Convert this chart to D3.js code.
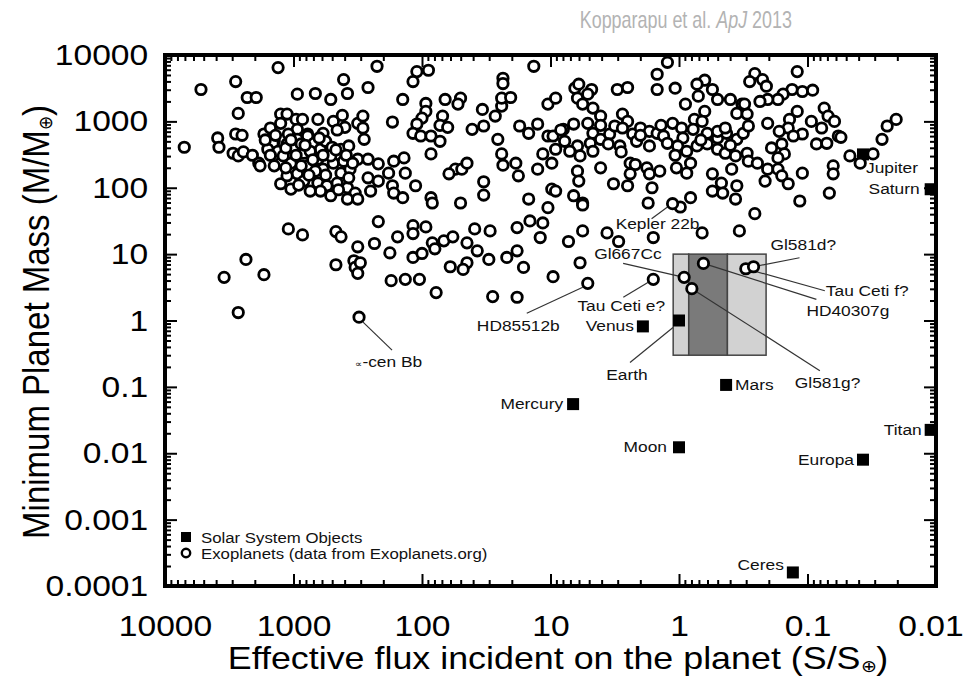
<!DOCTYPE html>
<html>
<head>
<meta charset="utf-8">
<script src="https://cdn.jsdelivr.net/npm/d3@7"></script>
<style>
  body { margin: 0; background: #fff; }
  svg { display: block; }
  text { font-family: "Liberation Sans", Arial, Helvetica, sans-serif; }
</style>
</head>
<body>
<div id="chart"></div>
<script>
// exoplanets, as [log10(S/S_earth), log10(M/M_earth)]
const exoplanets = [
  [3.72,3.48],[3.45,3.60],[3.12,3.81],[3.36,3.36],[3.29,3.36],[3.43,3.12],[3.85,2.61],[3.59,2.75],[3.58,2.61],[3.45,2.81],
  [3.40,2.79],[3.47,2.52],[3.43,2.48],[3.39,2.54],[3.32,2.49],[3.27,2.37],[3.26,2.33],[3.23,2.81],[3.18,2.90],[3.15,2.70],
  [3.10,3.11],[3.05,3.11],[3.10,2.97],[2.97,3.41],[2.83,3.42],[2.71,3.33],[2.61,3.63],[2.58,3.42],[2.98,3.03],[2.93,3.03],
  [2.97,2.88],[2.89,2.81],[2.81,3.03],[2.77,2.82],[2.69,3.00],[2.62,3.09],[2.60,2.91],[2.50,2.97],[3.10,2.06],
  [3.16,2.67],[3.20,2.58],[3.12,2.55],[3.05,2.66],[3.04,2.81],[2.97,2.73],[3.00,2.58],[2.92,2.52],[2.89,2.78],[2.84,2.67],
  [2.79,2.58],[2.75,2.70],[2.70,2.61],[2.63,2.58],[2.57,2.63],[3.10,2.37],[3.02,2.37],[2.97,2.21],[2.89,2.33],[2.81,2.43],
  [2.77,2.28],[2.69,2.37],[2.63,2.22],[2.56,2.28],[2.50,2.43],[3.15,2.33],[3.05,2.18],[2.92,2.10],[2.81,2.07],[2.74,2.03],
  [2.66,2.07],[2.58,2.00],[2.52,1.92],[2.79,1.95],[2.71,1.88],[2.58,1.83],[2.50,1.83],[2.94,2.66],[2.87,2.55],[3.08,2.48],
  [2.83,2.25],[2.71,2.48],[2.61,2.40],[2.94,2.33],[3.02,1.98],[2.87,1.95],
  [3.22,2.72],[3.14,2.79],[3.06,2.60],[2.98,2.49],[2.91,2.64],[2.85,2.42],[2.77,2.49],[2.67,2.57],[2.59,2.49],[2.54,2.37],
  [2.96,2.04],[2.88,2.19],[2.75,2.19],[2.65,1.97],[2.57,2.15],[3.06,2.30],[3.18,2.49],[3.02,2.72],[2.80,2.75],[2.66,2.87],
  [2.35,3.83],[2.04,3.75],[1.95,3.77],[2.07,3.60],[2.42,3.51],[2.15,3.33],[1.97,3.27],[1.82,3.33],[1.70,3.35],[1.72,3.26],
  [2.46,3.08],[2.46,2.90],[2.45,2.73],[2.23,2.99],[1.97,3.15],[2.00,3.05],[2.04,2.96],[2.07,2.82],[2.01,2.78],[1.93,2.78],
  [1.86,2.70],[1.84,3.08],[1.86,2.94],[1.80,2.91],[1.93,2.51],[1.53,3.18],[1.61,2.88],[1.52,2.93],[1.43,3.08],[1.38,3.23],
  [1.38,3.35],[1.31,3.36],[1.37,3.65],[1.37,3.57],[1.41,2.73],[1.38,2.51],[1.37,2.34],[1.27,2.37],[1.25,2.18],[1.52,2.09],
  [1.52,1.89],[1.17,1.83],[1.24,2.93],[1.17,2.82],[1.10,2.96],[1.02,2.78],[1.06,2.51],[0.99,2.37],[1.10,2.28],[0.99,1.98],
  [1.13,3.83],[1.74,2.28],[1.69,2.28],[1.65,2.37],[1.79,2.21],[2.42,2.43],[2.34,2.36],[2.22,2.40],[2.14,2.45],[2.26,2.22],
  [2.13,2.22],[2.42,2.15],[2.34,2.10],[2.23,2.03],[2.05,2.03],[2.40,1.95],[2.22,1.92],[2.15,1.85],[1.93,1.85],[1.92,1.77],
  [1.70,1.77],[1.02,3.26],
  [0.09,3.89],[0.17,3.71],[0.17,3.48],[0.03,3.50],[0.81,3.50],[0.78,3.56],[0.68,3.48],[0.48,3.48],[0.40,3.51],[0.96,3.35],
  [0.79,3.35],[0.71,3.41],[0.75,3.26],[0.67,3.20],[0.61,3.08],[0.44,3.11],[0.40,3.00],[-0.05,3.26],[-0.15,3.38],[-0.20,3.62],
  [-0.14,3.56],[-0.26,3.48],[-0.30,3.33],[-0.40,3.33],[-0.49,3.26],[-0.45,3.12],[-0.53,3.11],[-0.20,3.15],[-0.12,3.03],
  [0.98,2.78],[0.90,2.88],[0.82,2.96],[0.71,2.97],[0.67,2.82],[0.89,2.70],[0.79,2.63],[0.69,2.67],[0.61,2.73],[0.54,2.81],
  [0.50,2.93],[0.44,2.90],[0.36,2.81],[0.30,2.90],[0.23,2.85],[0.17,2.82],[0.12,2.78],[0.05,2.97],[-0.02,2.90],[-0.03,2.75],
  [-0.11,2.88],[-0.18,3.00],[-0.22,2.82],[-0.30,2.75],[-0.37,2.82],[-0.45,2.73],[-0.50,2.82],[0.96,2.58],[0.85,2.55],[0.77,2.48],
  [0.67,2.55],[0.55,2.66],[0.46,2.63],[0.33,2.70],[0.23,2.63],[0.09,2.67],[0.01,2.63],[-0.06,2.55],[-0.14,2.63],[-0.22,2.66],
  [-0.30,2.58],[-0.36,2.52],[-0.44,2.48],[-0.53,2.52],[-0.30,2.85],[-0.36,2.90],
  [0.92,2.87],[0.61,2.94],[0.30,2.79],[0.14,2.94],[-0.17,2.72],[-0.40,2.64],[0.45,2.54],[0.03,2.49],
  [0.79,2.25],[0.78,2.10],[0.61,2.30],[0.38,2.37],[0.34,2.35],[0.38,2.21],[0.25,2.30],[0.23,2.21],[0.15,2.25],[0.02,2.30],
  [-0.09,2.37],[-0.06,2.22],[-0.26,2.21],[-0.33,2.07],[-0.41,2.28],[-0.26,1.95],[-0.34,1.92],[-0.45,2.03],[-0.44,1.83],[0.51,2.06],
  [0.40,2.03],[0.21,2.00],[0.96,1.95],[0.82,1.88],[0.75,1.77],[0.24,1.77],[-0.09,1.85],
  [-0.59,3.72],[-0.55,3.60],[-0.65,3.63],[-0.68,3.53],[-0.92,3.75],[-0.88,3.48],[-0.96,3.45],[-1.04,3.47],[-0.81,3.41],[-0.77,3.33],
  [-0.69,3.33],[-0.63,3.30],[-0.92,3.15],[-0.86,3.03],[-0.85,2.90],[-0.78,2.85],[-0.69,2.97],[-0.54,2.93],[-0.51,3.26],[-1.13,3.20],
  [-1.16,3.08],[-1.21,3.00],[-1.03,3.00],[-1.11,2.90],[-0.96,2.81],[-0.89,2.78],[-0.80,2.66],[-0.72,2.60],[-0.82,2.51],[-0.77,2.45],
  [-0.54,2.40],[-0.61,2.37],[-0.69,2.28],[-0.77,2.28],[-0.80,2.18],[-0.67,2.10],[-0.85,2.06],[-0.96,2.22],[-1.20,2.33],[-1.20,2.21],
  [-1.17,1.92],[-0.94,1.80],[-1.07,2.66],[-1.15,2.67],[-1.24,2.78],[-1.26,2.76],[-1.33,2.48],[-1.41,2.37],[-1.51,2.51],[-1.58,2.73],
  [-1.62,2.93],[-1.69,3.03],
  [3.04,1.38],[2.93,1.29],[2.67,1.34],[2.63,1.26],[2.34,1.49],[2.19,1.26],[2.07,1.43],[2.07,1.31],[1.97,1.41],[2.50,1.11],
  [2.37,1.16],[2.25,1.02],[2.07,0.95],[2.00,1.01],[1.92,1.17],[1.90,1.08],[1.83,1.20],[1.76,1.26],[1.59,1.38],[1.47,1.35],
  [1.65,1.17],[1.57,1.05],[1.65,0.87],[1.68,0.77],[1.48,0.92],[1.34,0.95],[1.26,1.05],[1.21,0.80],[1.26,1.40],[1.16,1.50],
  [1.06,1.47],[1.08,1.25],[3.37,0.92],[3.54,0.65],[3.23,0.69],[3.43,0.12],[2.67,0.84],[2.53,0.90],[2.52,0.80],[2.48,0.87],
  [2.50,0.71],[2.24,0.60],[2.13,0.62],[2.02,0.62],[1.89,0.42],[1.78,0.81],[1.45,0.36],[1.26,0.35],
  [1.02,1.70],[0.75,1.74],[-0.01,1.71],[-0.59,1.61],[-0.47,1.35],[-0.18,1.32],[0.20,1.25],[0.47,1.19],[0.56,1.32],[0.75,1.35],
  [0.86,1.19],[0.77,0.87],[0.98,0.66]
];

// labelled exoplanets
const namedPlanets = ['∝-cen Bb', 'HD85512b', 'Kepler 22b', 'Gl667Cc', 'Tau Ceti e?', 'Gl581g?', 'HD40307g', 'Tau Ceti f?', 'Gl581d?'];
const namedLogFlux = [2.49, 0.71, 0.05, -0.04, 0.20, -0.10, -0.19, -0.52, -0.58];
const namedLogMass = [0.05, 0.56, 1.76, 0.65, 0.62, 0.48, 0.86, 0.78, 0.81];

// solar system objects (flux and mass relative to Earth)
const solarNames = ['Mercury', 'Venus', 'Earth', 'Moon', 'Mars', 'Ceres', 'Jupiter', 'Europa', 'Saturn', 'Titan'];
const solarFlux = [6.67, 1.91, 1, 1, 0.43, 0.13, 0.037, 0.037, 0.011, 0.011];
const solarMass = [0.055, 0.815, 1, 0.0123, 0.107, 0.00016, 318, 0.008, 95, 0.0225];

// habitable zone box: flux edges (inner -> outer) and mass range
const hzFlux = [1.11, 0.84, 0.42, 0.21];
const hzMass = [0.3, 10];

const xTickValues = [10000, 1000, 100, 10, 1, 0.1, 0.01];
const xTickLabels = ['10000', '1000', '100', '10', '1', '0.1', '0.01'];
const yTickValues = [1e-4, 1e-3, 1e-2, 0.1, 1, 10, 100, 1000, 10000];
const yTickLabels = ['0.0001', '0.001', '0.01', '0.1', '1', '10', '100', '1000', '10000'];

// label placement, in pixels relative to the marker
const solarLabelLayout = {
    Mercury: { dx: -10, dy: 5, anchor: 'end' },
    Venus: { dx: -9, dy: 5, anchor: 'end' },
    Earth: { dx: -52, dy: 59, anchor: 'middle', line: [-6, 7, -49, 42] },
    Moon: { dx: -12, dy: 5, anchor: 'end' },
    Mars: { dx: 9, dy: 5, anchor: 'start' },
    Ceres: { dx: -9, dy: -2, anchor: 'end' },
    Jupiter: { dx: 3, dy: 19, anchor: 'start' },
    Europa: { dx: -9, dy: 5, anchor: 'end' },
    Saturn: { dx: -11, dy: 5, anchor: 'end' },
    Titan: { dx: -9, dy: 5, anchor: 'end' }
};
const exoLabelLayout = {
    '∝-cen Bb': { dx: -4, dy: 50, anchor: 'start', line: [4, 5, 33, 33] },
    'HD85512b': { dx: -28, dy: 48, anchor: 'end', line: [-5, 4, -61, 30] },
    'Kepler 22b': { dx: -15, dy: 25, anchor: 'middle', line: [-2, 1, -21, 15] },
    'Gl667Cc': { dx: -90, dy: -18, anchor: 'start', line: [0, 0, -61, -14] },
    'Tau Ceti e?': { dx: -32, dy: 32, anchor: 'middle', line: [0, 0, -30, 18] },
    'Gl581g?': { dx: 103, dy: 99, anchor: 'start', line: [0, 0, 128, 82] },
    'HD40307g': { dx: 103, dy: 53, anchor: 'start', line: [0, 0, 113, 36] },
    'Tau Ceti f?': { dx: 80, dy: 27, anchor: 'start', line: [0, 0, 79, 22] },
    'Gl581d?': { dx: 17, dy: -17, anchor: 'start', line: [0, 0, 46, -9] }
};

const width = 966, height = 679;
const plot = { left: 165, right: 936, top: 55, bottom: 586 };
const sx = 1.12; // the original figure is a little wider than tall, text included

const x = d3.scaleLog().domain([10000, 0.01]).range([plot.left, plot.right]);
const y = d3.scaleLog().domain([1e-4, 1e4]).range([plot.bottom, plot.top]);

const svg = d3.select('#chart').append('svg').attr('width', width).attr('height', height);

const addText = (parent, px, py, str, size, anchor, fill) =>
    parent.append('text')
        .attr('transform', `translate(${px},${py}) scale(${sx},1)`)
        .attr('text-anchor', anchor || 'start')
        .attr('font-size', size)
        .attr('fill', fill || '#111')
        .text(str);

// credit line (narrow humanist face in the original)
const credit = svg.append('text')
    .attr('transform', 'translate(792,28) scale(0.78,1)')
    .attr('text-anchor', 'end')
    .attr('font-family', 'Lato, "Open Sans", sans-serif')
    .attr('font-size', 23)
    .attr('fill', '#b3b3b3');
credit.append('tspan').text('Kopparapu et al. ');
credit.append('tspan').attr('font-style', 'italic').text('ApJ');
credit.append('tspan').text(' 2013');

// habitable zone
const hzFills = ['#d2d2d2', '#7a7a7a', '#d2d2d2'];
svg.append('g').selectAll('rect')
    .data(d3.range(hzFlux.length - 1))
    .join('rect')
    .attr('x', (i) => x(hzFlux[i]))
    .attr('width', (i) => x(hzFlux[i + 1]) - x(hzFlux[i]))
    .attr('y', y(hzMass[1]))
    .attr('height', y(hzMass[0]) - y(hzMass[1]))
    .attr('fill', (i) => hzFills[i])
    .attr('stroke', '#444')
    .attr('stroke-width', 1.5);

// leader lines
const leaders = svg.append('g').attr('stroke', '#333').attr('stroke-width', 1.2);
namedPlanets.forEach((name, i) => {
    const l = exoLabelLayout[name].line;
    const px = x(10 ** namedLogFlux[i]), py = y(10 ** namedLogMass[i]);
    leaders.append('line')
        .attr('x1', px + l[0]).attr('y1', py + l[1])
        .attr('x2', px + l[2]).attr('y2', py + l[3]);
});
solarNames.forEach((name, i) => {
    const l = solarLabelLayout[name].line;
    if (!l) return;
    const px = x(solarFlux[i]), py = y(solarMass[i]);
    leaders.append('line')
        .attr('x1', px + l[0]).attr('y1', py + l[1])
        .attr('x2', px + l[2]).attr('y2', py + l[3]);
});

// solar system squares
const sq = 12;
svg.append('g').selectAll('rect')
    .data(solarNames)
    .join('rect')
    .attr('x', (d, i) => x(solarFlux[i]) - sq / 2)
    .attr('y', (d, i) => y(solarMass[i]) - sq / 2)
    .attr('width', sq).attr('height', sq)
    .attr('fill', '#000');

// exoplanet circles
const circleStyle = (sel) => sel.attr('r', 5.2).attr('fill', '#fff').attr('stroke', '#000').attr('stroke-width', 2.8);
svg.append('g').selectAll('circle')
    .data(exoplanets)
    .join('circle')
    .attr('cx', (d) => x(10 ** d[0]))
    .attr('cy', (d) => y(10 ** d[1]))
    .call(circleStyle);
svg.append('g').selectAll('circle')
    .data(namedPlanets)
    .join('circle')
    .attr('cx', (d, i) => x(10 ** namedLogFlux[i]))
    .attr('cy', (d, i) => y(10 ** namedLogMass[i]))
    .call(circleStyle);

// labels
const labels = svg.append('g');
solarNames.forEach((name, i) => {
    const s = solarLabelLayout[name];
    addText(labels, x(solarFlux[i]) + s.dx, y(solarMass[i]) + s.dy, name, 15.5, s.anchor);
});
namedPlanets.forEach((name, i) => {
    const s = exoLabelLayout[name];
    const px = x(10 ** namedLogFlux[i]) + s.dx, py = y(10 ** namedLogMass[i]) + s.dy;
    if (name.startsWith('∝')) {
        const t = addText(labels, px, py, '', 15.5, s.anchor);
        t.append('tspan').attr('font-size', 9).text('∝');
        t.append('tspan').text(name.slice(1));
    } else {
        addText(labels, px, py, name, 15.5, s.anchor);
    }
});

// legend
const legend = svg.append('g');
legend.append('rect').attr('x', 181).attr('y', 532).attr('width', 10).attr('height', 10).attr('fill', '#000');
addText(legend, 201, 543, 'Solar System Objects', 15, 'start');
legend.append('circle').attr('cx', 186).attr('cy', 553).attr('r', 4.2).attr('fill', '#fff').attr('stroke', '#000').attr('stroke-width', 2.4);
addText(legend, 201, 559, 'Exoplanets (data from Exoplanets.org)', 15, 'start');

// axes: inward major/minor ticks on all four sides
const isDecade = (d) => Math.abs(Math.log10(d) - Math.round(Math.log10(d))) < 1e-6;
const xMinor = x.ticks().filter((d) => !isDecade(d));
const yMinor = y.ticks().filter((d) => !isDecade(d));

const axisGroup = (axis, tx, ty) => {
    const g = svg.append('g').attr('transform', `translate(${tx},${ty})`).call(axis);
    g.select('.domain').remove();
    g.selectAll('.tick line').attr('stroke', '#000').attr('stroke-width', 2);
    return g;
};

const xAxis = axisGroup(
    d3.axisBottom(x).tickValues(xTickValues).tickSize(-12).tickPadding(29)
        .tickFormat((d, i) => xTickLabels[i]), 0, plot.bottom);
axisGroup(d3.axisBottom(x).tickValues(xMinor).tickSize(-6).tickFormat(''), 0, plot.bottom);
axisGroup(d3.axisTop(x).tickValues(xTickValues).tickSize(-12).tickFormat(''), 0, plot.top);
axisGroup(d3.axisTop(x).tickValues(xMinor).tickSize(-6).tickFormat(''), 0, plot.top);

const yAxis = axisGroup(
    d3.axisLeft(y).tickValues(yTickValues).tickSize(-12).tickPadding(15)
        .tickFormat((d, i) => yTickLabels[i]), plot.left, 0);
axisGroup(d3.axisLeft(y).tickValues(yMinor).tickSize(-6).tickFormat(''), plot.left, 0);
axisGroup(d3.axisRight(y).tickValues(yTickValues).tickSize(-12).tickFormat(''), plot.right, 0);
axisGroup(d3.axisRight(y).tickValues(yMinor).tickSize(-6).tickFormat(''), plot.right, 0);

[xAxis, yAxis].forEach((g) => g.selectAll('text')
    .attr('font-size', 30)
    .attr('font-family', '"Liberation Sans", Arial, sans-serif')
    .attr('fill', '#000')
    .attr('transform', `scale(${sx},1)`));
// the last x label sits a little left of its tick so it stays inside the page
xAxis.selectAll('text').attr('x', (d, i) => (i === xTickLabels.length - 1 ? -5 : 0));

// frame
svg.append('rect')
    .attr('x', plot.left).attr('y', plot.top)
    .attr('width', plot.right - plot.left).attr('height', plot.bottom - plot.top)
    .attr('fill', 'none').attr('stroke', '#000').attr('stroke-width', 4);

// axis titles
const xTitle = svg.append('text')
    .attr('transform', `translate(558,669) scale(${sx},1)`)
    .attr('text-anchor', 'middle').attr('font-size', 32).attr('fill', '#000');
xTitle.append('tspan').text('Effective flux incident on the planet (S/S');
xTitle.append('tspan').attr('font-size', 17).attr('dy', 3).text('⊕');
xTitle.append('tspan').attr('dy', -3).text(')');

const yTitle = svg.append('text')
    .attr('transform', `translate(49,322) rotate(-90) scale(1,${sx})`)
    .attr('text-anchor', 'middle').attr('font-size', 33).attr('fill', '#000');
yTitle.append('tspan').text('Minimum Planet Mass (M/M');
yTitle.append('tspan').attr('font-size', 17).attr('dy', 3).text('⊕');
yTitle.append('tspan').attr('dy', -3).text(')');
</script>
</body>
</html>
